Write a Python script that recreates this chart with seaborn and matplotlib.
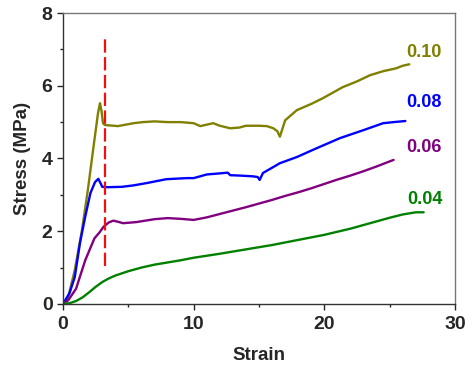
import pandas as pd
import matplotlib
matplotlib.use("Agg")
import matplotlib.pyplot as plt
import seaborn as sns

# Stress-strain curves, one per concentration
conc_labels = ["0.10", "0.08", "0.06", "0.04"]
conc_colors = ["#808000", "#0000ff", "#800080", "#008000"]

strain_010 = [0, 0.4, 0.9, 1.45, 1.9, 2.3, 2.68, 2.83, 2.95, 3.06, 3.2, 4.2, 5.4, 6.1, 7, 8, 9, 10,
              10.5, 11.5, 12, 12.8, 13.5, 14, 15, 15.6, 16.1, 16.4, 16.6, 17.0, 17.9, 19, 19.9,
              21.4, 22.5, 23.5, 24.5, 25.5, 26, 26.5]
stress_010 = [0, 0.19, 0.93, 2.03, 3.13, 4.23, 5.25, 5.52, 5.3, 4.97, 4.92, 4.89, 4.97, 5.0, 5.02,
              5.0, 5.0, 4.97, 4.89, 4.97, 4.9, 4.83, 4.85, 4.9, 4.9, 4.89, 4.83, 4.75, 4.6, 5.05,
              5.33, 5.5, 5.66, 5.96, 6.12, 6.29, 6.4, 6.48, 6.55, 6.59]

strain_008 = [0, 0.5, 0.9, 1.3, 1.7, 2.1, 2.45, 2.7, 2.9, 3.0, 3.4, 4.5, 5.4, 6.5, 7.9, 9.5, 10,
              11, 12, 12.6, 12.8, 13.5, 14.5, 14.9, 15.05, 15.3, 16.6, 17.9, 19.4, 21.2, 23.0,
              24.5, 25.3, 26.2]
stress_008 = [0, 0.3, 0.74, 1.68, 2.4, 3.05, 3.35, 3.44, 3.3, 3.22, 3.21, 3.22, 3.26, 3.33, 3.43,
              3.46, 3.46, 3.56, 3.59, 3.61, 3.54, 3.53, 3.51, 3.49, 3.41, 3.6, 3.87, 4.04, 4.28,
              4.56, 4.78, 4.97, 5.0, 5.03]

strain_006 = [0, 0.4, 1.0, 1.7, 2.4, 2.8, 3.1, 3.5, 3.85, 4.2, 4.6, 5.6, 7, 8, 9, 10, 11, 12.5,
              14, 15, 16, 17, 18, 19, 20, 21, 22, 23, 24, 25, 25.3]
stress_006 = [0, 0.1, 0.42, 1.2, 1.8, 1.97, 2.12, 2.24, 2.29, 2.26, 2.22, 2.25, 2.33, 2.36, 2.34,
              2.31, 2.38, 2.52, 2.66, 2.76, 2.86, 2.97, 3.07, 3.18, 3.3, 3.42, 3.53, 3.65, 3.78,
              3.92, 3.96]

strain_004 = [0, 0.5, 1, 1.5, 2, 2.5, 3, 3.5, 4, 5, 6, 7, 8, 9, 10, 12, 14, 16, 18, 20, 22, 24,
              25, 26, 27, 27.6]
stress_004 = [0, 0.02, 0.08, 0.18, 0.32, 0.47, 0.6, 0.7, 0.78, 0.9, 1.0, 1.08, 1.14, 1.2, 1.27,
              1.38, 1.5, 1.62, 1.76, 1.9, 2.07, 2.27, 2.37, 2.46, 2.52, 2.52]

# where each label sits (strain, stress)
label_x = [27.6, 27.6, 27.6, 27.7]
label_y = [6.92, 5.55, 4.31, 2.86]

# yield marker line
yield_strain = 3.2
yield_lo, yield_hi = 1.05, 7.35

strains = [strain_010, strain_008, strain_006, strain_004]
stresses = [stress_010, stress_008, stress_006, stress_004]
frames = []
for lab, xs, ys in zip(conc_labels, strains, stresses):
    frames.append(pd.DataFrame({"Strain": xs, "Stress": ys, "Conc": lab}))
df = pd.concat(frames, ignore_index=True)

sns.set_style("ticks")
plt.rcParams["font.family"] = ["Liberation Sans", "DejaVu Sans"]
plt.rcParams["font.weight"] = "bold"

fig = plt.figure(figsize=(4.72, 3.72), dpi=100)
ax = fig.add_axes([0.1335, 0.183, 0.8305, 0.782])

sns.lineplot(data=df, x="Strain", y="Stress", hue="Conc", hue_order=conc_labels,
             palette=conc_colors, sort=False, estimator=None, linewidth=1.7,
             legend=False, ax=ax)

ax.plot([yield_strain, yield_strain], [yield_lo, yield_hi], color="#ee1111",
        linewidth=1.6, dashes=(6, 2))

for lab, col, tx, ty in zip(conc_labels, conc_colors, label_x, label_y):
    ax.text(tx, ty, lab, color=col, fontsize=13, fontweight="bold", ha="center", va="center")

ax.set_xlim(0, 30)
ax.set_ylim(0, 8)
ax.set_xticks([0, 10, 20, 30])
ax.set_xticks([5, 15, 25], minor=True)
ax.set_yticks([0, 2, 4, 6, 8])
ax.set_yticks([1, 3, 5, 7], minor=True)
ax.tick_params(axis="both", which="major", labelsize=14, length=4.5, width=1, direction="out")
ax.tick_params(axis="x", which="major", pad=4)
ax.tick_params(axis="y", which="major", pad=3)
ax.tick_params(axis="both", which="minor", length=2.5, width=1, direction="out")
for t in ax.get_xticklabels() + ax.get_yticklabels():
    t.set_fontweight("bold")

ax.set_xlabel("Strain", fontsize=13.5, fontweight="bold", labelpad=10)
ax.set_ylabel("Stress (MPa)", fontsize=13.5, fontweight="bold", labelpad=8)

for side in ["left", "bottom"]:
    ax.spines[side].set_color("#333333")
    ax.spines[side].set_linewidth(1.0)
for side in ["top", "right"]:
    ax.spines[side].set_visible(True)
    ax.spines[side].set_color("#777777")
    ax.spines[side].set_linewidth(1.0)

fig.savefig("out.png", dpi=100)
